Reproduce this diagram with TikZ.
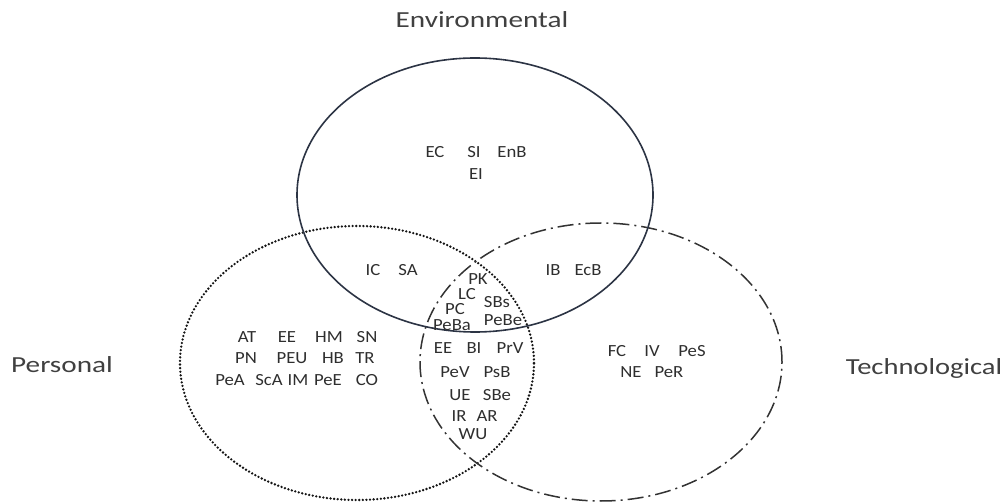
\documentclass[tikz,border=0pt]{standalone}
\usepackage{fontspec}
\setmainfont{Carlito}
\begin{document}
\begin{tikzpicture}[x=1pt,y=-1pt,
  setline/.style={line width=1.6pt, draw=setblue},
  dotline/.style={line width=2.6pt, draw=black!92, dash pattern=on 0pt off 3.6pt, line cap=round},
  dashdotline/.style={line width=1.5pt, draw=black!80, dash pattern=on 16pt off 5pt on 2pt off 5pt},
  item/.style={anchor=base, inner sep=0pt, text=black!82,
    font=\fontsize{17}{19}\selectfont},
  title/.style={anchor=base, inner sep=0pt, text=black!75,
    font=\fontsize{23}{27}\selectfont}]
\definecolor{setblue}{HTML}{2C3444}
\useasboundingbox (0,0) rectangle (1004,502);

% the three sets
\draw[dotline] (357,363) ellipse [x radius=177pt, y radius=137pt];
\draw[dashdotline] (601,362) ellipse [x radius=181pt, y radius=139pt];
\draw[setline] (475,195) ellipse [x radius=178pt, y radius=137pt];

% set names
\node[title] (tEnv) at (482,28) {\scalebox{1.27}[1]{Environmental}};
\node[title] (tPers) at (62,373) {\scalebox{1.27}[1]{Personal}};
\node[title] (tTech) at (924,375) {\scalebox{1.24}[1]{Technological}};

% factor abbreviations, placed word by word
\foreach \t/\x/\y [count=\i] in {
  EC/435/158, SI/474/158, EnB/512/158, EI/476/180,
  IC/373/276, SA/408/276, IB/553/276, EcB/588/276,
  PK/478/285, LC/467/300, SBs/497/308, PC/455/315, PeBa/452/331, PeBe/503/326,
  EE/443/354, BI/474/354, PrV/510/354,
  PeV/455/378, PsB/497/378,
  UE/460/400, SBe/497/400,
  IR/459/421, AR/487/421,
  WU/473/439,
  AT/247/343, EE/287/343, HM/329/343, SN/367/343,
  PN/246/364, PEU/292/364, HB/333/364, TR/365/364,
  PeA/230/386, ScA/269/386, IM/298/386, PeE/328/386, CO/367/386,
  FC/617/357, IV/652/357, PeS/692/357,
  NE/631/378, PeR/669/378}
  \node[item, name=w\i] at (\x,\y) {\scalebox{1.1}[1]{\t}};
\end{tikzpicture}
\end{document}
